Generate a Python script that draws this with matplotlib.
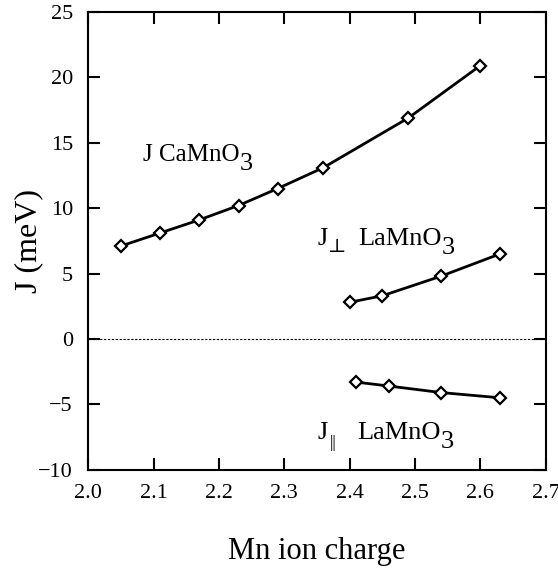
import matplotlib
matplotlib.use('Agg')
import matplotlib.pyplot as plt
from matplotlib.transforms import offset_copy

plt.rcParams['font.family'] = ['Liberation Serif', 'DejaVu Serif']
plt.rcParams['mathtext.fontset'] = 'stix'

# data
ca_x = [2.05, 2.11, 2.17, 2.23, 2.29, 2.36, 2.49, 2.60]
ca_y = [7.1, 8.1, 9.1, 10.2, 11.5, 13.1, 16.9, 20.9]
perp_x = [2.40, 2.45, 2.54, 2.63]
perp_y = [2.8, 3.3, 4.8, 6.5]
par_x = [2.41, 2.46, 2.54, 2.63]
par_y = [-3.3, -3.6, -4.1, -4.5]

xticks = [2.0, 2.1, 2.2, 2.3, 2.4, 2.5, 2.6, 2.7]
yticks = [-10, -5, 0, 5, 10, 15, 20, 25]

fig = plt.figure(figsize=(5.58, 5.68), dpi=100)
ax = fig.add_axes([0.158, 0.173, 0.820, 0.806])

ax.axhline(0, color='black', lw=0.8, ls=(0, (2, 1.5)))
for xs, ys in [(ca_x, ca_y), (perp_x, perp_y), (par_x, par_y)]:
    ax.plot(xs, ys, color='black', lw=2, marker='D', ms=6.5,
            mfc='white', mec='black', mew=1.6)

ax.set_xlim(2.0, 2.7)
ax.set_ylim(-10, 25)
ax.set_xticks(xticks)
ax.set_yticks(yticks)
ax.set_xticklabels([f'{t:.1f}' for t in xticks])
ax.tick_params(direction='in', length=8.5, width=1.5, top=True, right=True,
               labelsize=16)
ax.tick_params(axis='x', pad=10)
ax.tick_params(axis='y', pad=11)
for s in ax.spines.values():
    s.set_linewidth(1.5)

ax.set_xlabel('Mn ion charge', fontsize=22, labelpad=25)
ax.set_ylabel('J (meV)', fontsize=23)
ax.yaxis.set_label_coords(-0.098, 0.5)


def label(x, y, parts):
    """parts: (text, fontsize, dy in px, gap before in px)"""
    fig.canvas.draw()
    r = fig.canvas.get_renderer()
    dx = 0
    for s, size, dy, gap in parts:
        dx += gap
        tr = offset_copy(ax.transData, fig=fig, x=dx, y=dy, units='dots')
        t = ax.text(x, y, s, fontsize=size, va='baseline', ha='left', transform=tr)
        dx += t.get_window_extent(r).width


label(2.084, 13.64, [('J CaMnO', 18, 0, 0), ('3', 19, -9, 0)])
label(2.351, 7.2, [('J', 19, 0, 0), ('⊥', 14, -7, 0),
                   ('LaMnO', 19, 0, 12), ('3', 19, -9, 0)])
label(2.351, -7.63, [('J', 19, 0, 0), ('||', 12, -8, 2),
                     ('LaMnO', 19, 0, 21), ('3', 19, -9, 0)])

fig.savefig('out.png', dpi=100)
